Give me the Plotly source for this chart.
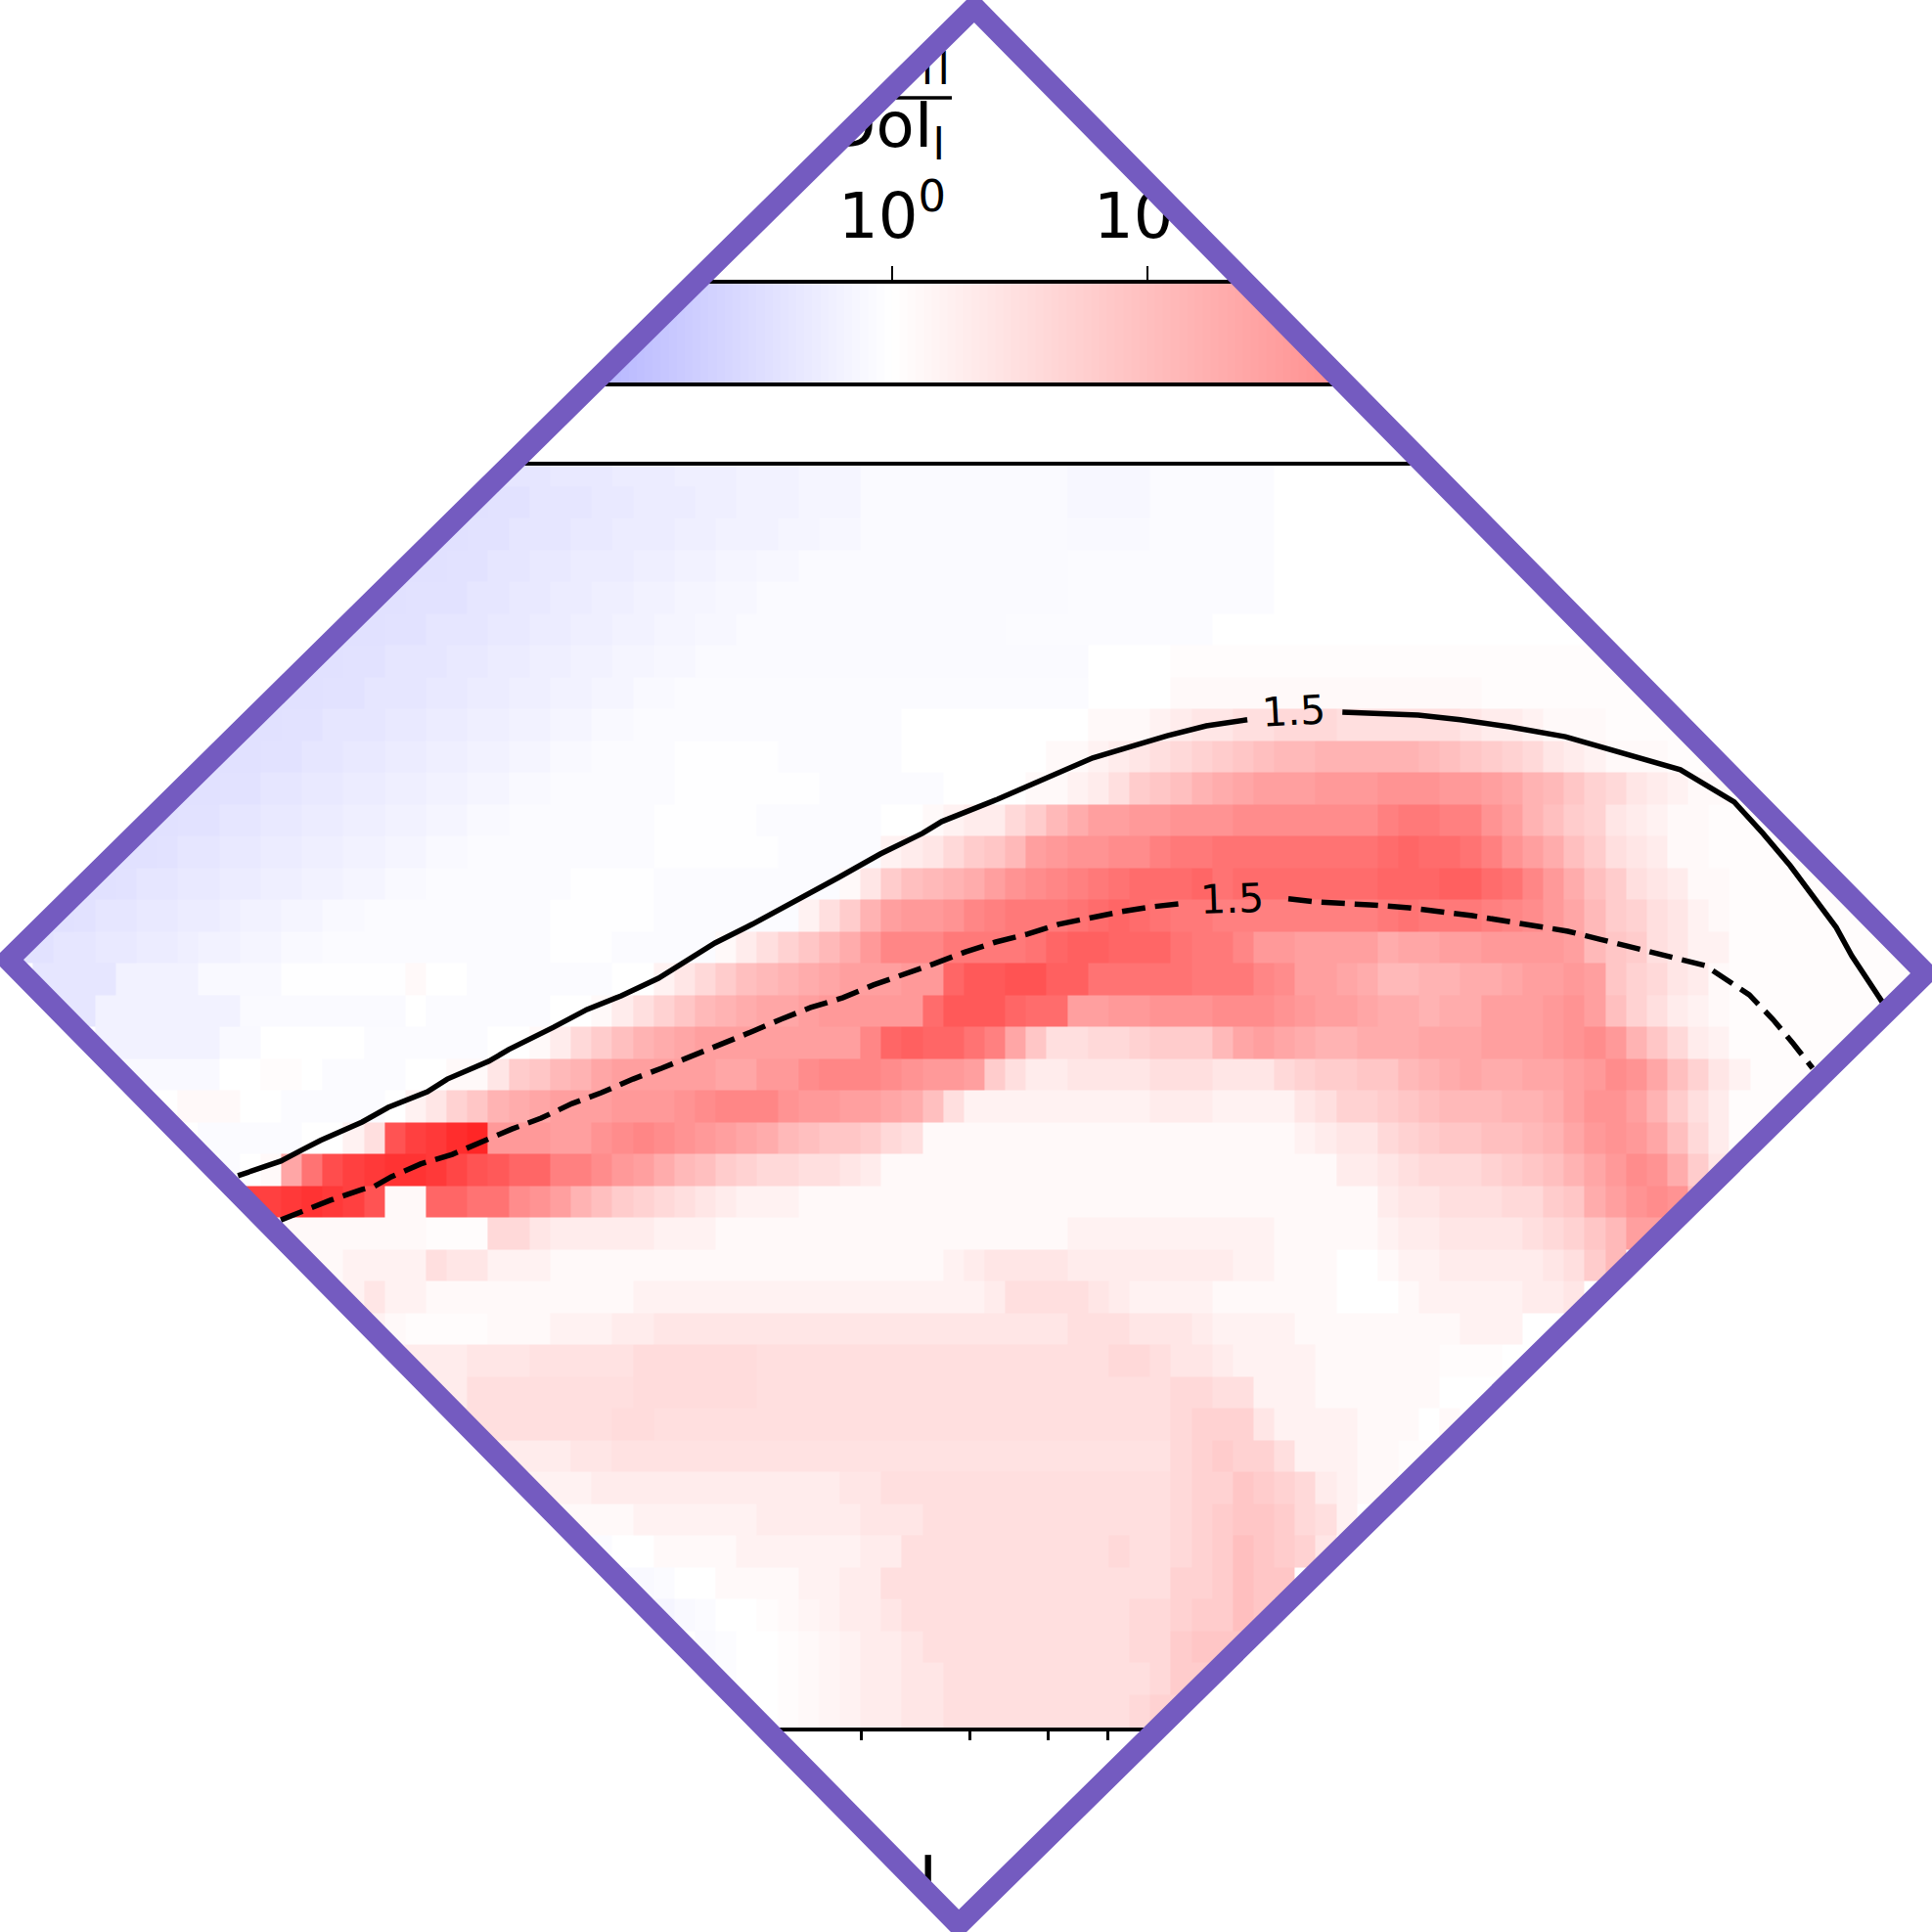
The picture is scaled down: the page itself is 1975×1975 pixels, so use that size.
import numpy as np
import plotly.graph_objects as go

# ratio per cell, in tenths of a decade (log10), top row first, leading zeros = outside the frame
row_00 = [0]*23 + [-4,-4,-4,-3.5,-3.5,-3.5,-3,-3,-3,-2.5,-2.5,-2.5,-2,-2,-2,-1.5,-1.5,-1.5] + [-.8]*10 + [-1.2]*4 + [-.7]*6
row_01 = [0]*21 + [-4.7,-4.7,-4.5,-4.5,-4,-4,-4,-3.5,-3.5,-3,-3,-3,-2.5,-2.5,-2,-2,-2,-1.5,-1.5,-1.5] + [-.8]*10 + [-1.2]*4 + [-.7]*6
row_02 = [0]*19 + [-4.7,-4.7,-4.7,-4.5,-4.5,-4,-4,-4,-3.5,-3.5,-3,-3,-3,-2.5,-2.5,-2,-2,-2,-1.5,-1.5,-1.2,-1.2] + [-.8]*10 + [-1]*4 + [-.6]*6
row_03 = [0]*18 + [-4.7,-4.7,-4.7,-4.5,-4.5,-4,-4,-3.5,-3.5,-3,-3,-3,-2.5,-2.5,-2,-2,-1.5,-1.5,-1.2,-1.2] + [-.8]*13 + [-.6]*10
row_04 = [0]*16 + [-4.7,-4.7,-4.7,-4.5,-4.5,-4.5,-4,-4,-3.5,-3.5,-3,-3,-2.5,-2.5,-2,-2,-1.5,-1.5,-1.2,-1.2] + [-.8]*15 + [-.6]*10
row_05 = [0]*15 + [-4.7,-4.7,-4.7,-4.5,-4.5,-4,-4,-4,-3.5,-3.5,-3,-3,-2.5,-2.5,-2,-2,-1.5,-1.5,-1.2,-1.2] + [-.8]*13 + [-.6]*10
row_06 = [0]*13 + [-4.7,-4.7,-4.7,-4.5,-4.5,-4,-4,-4,-3.5,-3.5,-3,-3,-2.5,-2.5,-2,-2,-1.5,-1.5,-1.2,-1.2] + [-.8]*19 + [0]*4 + [.5]*25
row_07 = [0]*12 + [-4.7,-4.7,-4.7,-4.5,-4.5,-4,-4,-4,-3.5,-3.5,-3,-3,-2.5,-2.5,-2,-2,-1.5,-1.5,-1,-1] + [-.7]*20 + [0]*4 + [1]*15 + [.5]*12
row_08 = [0]*10 + [-4.7,-4.7,-4.7,-4.5,-4.5,-4,-4,-4,-3.5,-3.5,-3,-3,-2.5,-2.5,-2,-2,-1.5,-1.5,-1,-1] + [-.7]*13 + [0]*9 + [1,1,1,2,3,4,4,5,5,6,6,6,5,5] + [5,5,5,5,4,3,3,2,1,1,1] + [.5]*8
row_09 = [0]*9 + [-4.7,-4.7,-4.7,-4.5,-4.5,-4,-4,-3.5,-3.5,-3,-3,-2.5,-2.5,-2,-2,-1.5,-1.5,-1,-1] + [-.7]*4 + [-.2]*5 + [-.7]*6 + [0]*7 + [1,1,2,3,4,5,6,7,8,9,10,11,11,12,12,12] + [12,12,11,10,9,8,7,6,4,3,2,1,1,1] + [.5]*6
row_10 = [0]*7 + [-4.7,-4.7,-4.7,-4.5,-4.5,-4,-4,-3.5,-3.5,-3,-3,-2.5,-2.5,-2,-2,-1.5,-1.5,-1,-1] + [-.7]*6 + [-.2]*7 + [-.7]*6 + [0]*4 + [1,1,2,3,5,8,9,10,12,13,14,15,15,15,16,16,16,17,17] + [17,16,16,15,14,12,11,9,7,6,4,3,2,1,1] + [.5]*6
row_11 = [0]*5 + [-4.7,-4.7,-4.7,-4.5,-4.5,-4,-4,-3.5,-3.5,-3,-3,-2.5,-2.5,-2,-2,-1.5,-1.5,-1,-1] + [-.7]*7 + [-.2]*5 + [-.7]*6 + [0,0] + [1,2,3,3,6,8,11,13,15,15,16,16,17,17,17] + [18]*7 + [20,21,21,20,20,17,15,12,10,8,7,4,3,2,1,1] + [.5]*6
row_12 = [0]*4 + [-4.7,-4.7,-4.7,-4.5,-4,-4,-3.5,-3.5,-3,-3,-2.5,-2.5,-2,-2,-1.5,-1.5,-1,-1] + [-.7]*9 + [-.2]*6 + [-.7]*5 + [2,3,4,6,8,9,11,15,16,17,17,18,18,20,21,21] + [22]*8 + [23,24,23,23,22,20,17,15,13,10,8,5,4,3,1,1] + [.5]*7
row_13 = [0]*2 + [-4.7,-4.7,-4.7,-4.5,-4,-4,-3.5,-3.5,-3,-3,-2.5,-2.5,-2,-2,-1.5,-1.5,-1,-1] + [-.7]*7 + [-.2]*4 + [-.7]*9 + [1,4] + [8,10,11,12,13,15,17,18,19,20,21,22,23,23,23,24,22] + [23]*7 + [24,24,24,25,25,23,22,19,16,13,10,8,5,4,3,1,1] + [.5]*7
row_14 = [0] + [-4.7,-4.7,-4.5,-4,-4,-3.5,-3.5,-3,-3,-2.5,-2,-2,-1.5,-1.5,-1,-1] + [-.7]*9 + [-.2]*5 + [-.7]*7 + [2,5,8,12] + [15,16,16,17,19,20,21,21,21,22,23,24,23,22,21,21,20] + [20]*7 + [21,22,21,21,21,20,19,18,16,14,11,8,7,5,4,2,1] + [.5]*8
row_15 = [-4.5]*2 + [-4,-4,-3.5,-3.5,-3,-3,-2.5,-2,-2,-1.5,-1.5,-1,-1] + [-.7]*11 + [-.2]*3 + [-.7]*5 + [1,3,5,7,9,11,13,16] + [19,19,19,21,21,21,21,22,24,25,25,24,24,24,22,21,21,19,16,16,15,15,15,15] + [13,14,14,15,15,16,16,16,16,15,11,9,8,5,4,2,2] + [.5]*9
row_16 = [0] + [-4]*4 + [-2]*4 + [-1]*4 + [-.2]*6 + [1] + [0,0] + [-.7]*7 + [0,0] + [2,4,6,8,10,11,12,13,14,15,15,15] \
    + [16,16,24,26,26,27,27,25,25,22,22,22,22,22,21,21,21,19,18,15,15,14,13] + [11,11,12,12,13,13,14,15,15,16,15,9,7,6,4,3,1] + [.5]*9
row_17 = [0,0] + [-4,-4] + [-2]*3 + [-2]*4 + [-.8]*8 + [0] + [-.7]*6 + [0,0] + [1,3,5,7,9,11,12,13,14,14,15,16,16,16,16] \
    + [16,23,26,26,26,24,23,23,15,15,16,16,17,17,17,18,18,18,17,16,15,15,14] + [13,13,12,13,13,15,15,15,16,17,15,10,7,5,3,2,1] + [.5]*8
row_18 = [0]*4 + [-2]*6 + [-1]*2 + [0]*5 + [-.7]*6 + [0,0,1] + [3,6,8,10,12,13,14,15] + [15]*7 \
    + [19,24,25,24,24,22,20,14,9,5,5,6,6,7,8,8,8,11,14,15,14,13,12,12,13] + [13,13,14,14,14,15,15,15,16,17,18,16,12,9,6,3,2] + [.5]*7
row_19 = [0]*5 + [-1]*5 + [0]*2 + [.5,.5] + [0] + [-.7]*4 + [0,0,1,1] + [4,8,9,11,12,14,15,15,15,15,15,14,14,16,16] \
    + [18,19,19,19,18,17,16,16,15,8,5,3,3,4,4,4,4,5,5,5,4,4,4,6,7,8,8,9,9] + [11,12,13,14,13,13,14,14,15,16,18,17,14,10,7,4,2] + [.5]*6
row_20 = [0]*8 + [1,1,1,0,0] + [-.7]*5 + [0,2,4,7,9,12,13,14,15,15,15,16,16,16,17,18,19,19,19,17,16,16,15,15,14,13,10,5] \
    + [2]*6 + [2,2,2,3,3,3,2,2,2,2,4,5,7,7] + [8,9,10,11,11,11,12,12,13,15,17,17,15,12,8,5,3] + [.5]*5
row_21 = [0]*9 + [-.7]*5 + [0,0,2,5] + [27,30,31,33,34] + [16,16,16,15,15,17,18,19,18,17,16,15,14,13,11,10,9,9,8,6,5] \
    + [1]*18 + [2,3,4,4] + [6,7,8,9,9,10,10,11,12,14,16,17,16,14,10,6,3] + [.5]*4
row_22 = [0]*10 + [-.7,0,1] + [14,22,28,30,31,32,32,31,29,27,26,24,24,20,20,18,16,15,13,11,10,8,7,6,6,5,5,4,3] \
    + [1]*22 + [3,3] + [4,5,6,6,6,7,8,9,10,12,14,16,18,17,13,8,4] + [.5]*3
row_23 = [0]*10 + [30,30,30,31,32,31,30,27] + [1,1] + [24,24,22,22,18,17,15,12,10,8,7,6,5,4,3,2,2,2] + [1]*28 \
    + [3,4,4,5,5,5,6,6,8,9,13,15,17,18,17,10,5]
row_24 = [0]*12 + [1]*8 + [.5]*3 + [6,6,4,3,3,3,3,3,2,2,2] + [1]*17 + [2]*10 + [1]*5 + [2,3,3,4,4,4,4,5,6,7,9,11,15,15]
row_25 = [0]*13 + [1,1,1,2,2,2,2,5,4,4,2,2,2] + [1]*19 + [2,3,4,4,4,4] + [3]*8 + [2,2,1,1,1,0,0] + [1,2,2,3,3,3,3,3,4,5,8,11]
row_26 = [0]*15 + [1,2,4,2,2] + [1]*10 + [2]*17 + [3,5,5,5,5,4,3] + [2]*4 + [1]*6 + [0]*3 + [1,2,2,2,2,2,3,3,4]
row_27 = [0]*16 + [2,2,1] + [.5]*4 + [1,1,1] + [2,2,2] + [3,3] + [4]*20 + [5,5,5] + [4,4,4] + [3] + [2]*4 + [1]*8 + [2]*3
row_28 = [0]*18 + [2,3,3,3] + [4,4,4] + [4.5]*5 + [5.5]*6 + [5]*17 + [6,6,5,4,4,3] + [2]*4 + [1]*6 + [.5]*3
row_29 = [0]*19 + [3]*3 + [5]*8 + [5.5]*6 + [5]*20 + [6,6,5,5] + [2,2,2,1,1,1,1,1,1]
row_30 = [0]*21 + [5]*8 + [5.5,5.5] + [5]*25 + [6,7,7,7,4,2,2,2,2,1,1,1] + [0,1]
row_31 = [0]*22 + [3]*5 + [4,4,4.5,4.5,4.5,4.5,4.5] + [4.5]*22 + [6,7,8,7,7,5,2,2,2,1,1] + [.5]*2
row_32 = [0]*24 + [2]*4 + [3]*12 + [4,4] + [5]*14 + [6,7,7,9,8,7,6,3,2,1,1]
row_33 = [0]*26 + [1]*4 + [2]*6 + [3]*5 + [4]*3 + [5]*12 + [6,7,8,9,9,8,6,5,2]
row_34 = [0]*27 + [-.7,-.7] + [0,0] + [1]*4 + [2]*6 + [3,3] + [5]*10 + [6,5,5] + [6,7,8,10,9,8,7,4]
row_35 = [0]*29 + [-1,-1,-.7] + [0,0] + [1]*4 + [2,2] + [3,3] + [5]*14 + [7,7,8,10,9,9]
row_36 = [0]*31 + [-1.5,-1,-.7,0,0,.5,1,1.5,2,3,3,4] + [5]*11 + [6,6,7,8,8,10,9]
row_37 = [0]*33 + [-.8,-.5,0,0,.5,1,1.5,2,3,3,4] + [5]*10 + [6,6,8,9,9,9]
row_38 = [0]*34 + [-.5,0,0,.5,1,1.5,2,3,3,4,4] + [5]*10 + [6,8,8]
row_39 = [0]*35 + [0,0,.5,1,1.5,2,3,3,4,4] + [5]*9 + [6,7,7]

rows = [row_00, row_01, row_02, row_03, row_04, row_05, row_06, row_07, row_08, row_09,
        row_10, row_11, row_12, row_13, row_14, row_15, row_16, row_17, row_18, row_19,
        row_20, row_21, row_22, row_23, row_24, row_25, row_26, row_27, row_28, row_29,
        row_30, row_31, row_32, row_33, row_34, row_35, row_36, row_37, row_38, row_39]

# contours: log10(x), y in rows, None = gap left for the label
solid_logx = [-0.702,-0.633,-0.597,-0.569,-0.502,-0.46,-0.397,-0.365,-0.298,-0.266,-0.194,-0.14,-0.085,-0.025,
              0.066,0.126,0.265,0.332,0.4,0.431,0.521,0.627,0.674,0.794,0.857,0.923,None,
              1.076,1.151,1.198,1.266,1.345,1.435,1.487,1.62,1.707,1.753,1.797,1.871,1.896,1.945]
solid_y = [17.31,17.77,18.14,18.42,19.0,19.46,19.95,20.35,20.91,21.28,21.98,22.54,22.97,23.52,
           24.63,25.22,26.69,27.43,28.08,28.45,29.15,30.08,30.45,31.15,31.46,31.65,None,
           31.89,31.86,31.8,31.65,31.43,31.12,30.82,30.08,29.06,28.08,27.06,25.12,24.23,22.78]
dashed_logx = [-0.633,-0.602,-0.553,-0.502,-0.483,-0.455,-0.408,-0.357,-0.309,-0.261,-0.214,-0.164,-0.117,-0.066,
               -0.02,0.028,0.076,0.124,0.172,0.22,0.272,0.321,0.419,0.469,0.518,0.569,0.619,0.668,0.721,0.77,0.824,None,
               0.989,1.036,1.12,1.183,1.285,1.387,1.439,1.49,1.643,1.66,1.731,1.769,1.802,1.833]
dashed_y = [15.92,16.17,16.54,16.88,16.97,17.28,17.68,17.98,18.38,18.78,19.12,19.58,19.92,20.35,
            20.69,21.06,21.46,21.83,22.23,22.6,22.91,23.31,23.98,24.35,24.66,24.91,25.22,25.43,25.62,25.77,25.89,None,
            26.02,25.92,25.83,25.74,25.49,25.18,25.0,24.75,24.02,23.92,23.0,22.23,21.46,20.69]

bottom_ticks = [2, 3, 4, 5, 6, 7, 8, 9]
cbar_ticks = [1, 10]
cbar_labels = ["10<sup>0</sup>", "10<sup>1</sup>"]

PURPLE = "#745BC0"
FONT = "DejaVu Sans"
bwr = [[0, "rgb(0,0,255)"], [0.5, "rgb(255,255,255)"], [1, "rgb(255,0,0)"]]

n_cols = 93
z = np.zeros((len(rows), n_cols))
for i, r in enumerate(rows):
    z[i, :len(r)] = r[:n_cols]
z = z[::-1] / 10.0

x_edges = 10 ** (-1.0655 + 0.033307 * np.arange(n_cols + 1))
y_edges = np.arange(len(rows) + 1, dtype=float)
y_edges[0] = -0.1

cbar_exp = np.linspace(-4, 4, 257)
cbar_mid = (cbar_exp[:-1] + cbar_exp[1:]) / 2

fig = go.Figure()
fig.add_heatmap(x=x_edges, y=y_edges, z=z, zmin=-4, zmax=4, colorscale=bwr, showscale=False, hoverinfo="skip")
fig.add_scatter(x=[None if v is None else 10 ** v for v in solid_logx], y=solid_y, mode="lines",
                line=dict(color="black", width=5.5), connectgaps=False, showlegend=False)
fig.add_scatter(x=[None if v is None else 10 ** v for v in dashed_logx], y=dashed_y, mode="lines",
                line=dict(color="black", width=5.5, dash="24px,10px"), connectgaps=False, showlegend=False)

# colour bar as its own strip, so it has a real log axis
fig.add_heatmap(x=10 ** cbar_exp, y=[0, 1], z=[cbar_mid], zmin=-4, zmax=4, colorscale=bwr, showscale=False,
                xaxis="x2", yaxis="y2", hoverinfo="skip")

# pixel-space overlay for the text that the frame cuts through
fig.add_scatter(x=[971, 966, 922], y=[57, 134, 1927], mode="text", xaxis="x3", yaxis="y3",
                text=["DoI<sub>l\u200al</sub>", "DoI<sub>l</sub>", "E\u2009I"],
                textposition=["middle left", "middle left", "middle center"],
                textfont=dict(family=FONT, size=64, color="black"), cliponaxis=False, showlegend=False)

frame = "M 996 7.5 L 1968.5 995 L 980 1967.5 L 8.5 981 Z"
mask = "M 0 0 H 1975 V 1975 H 0 Z M 996 7.5 L 8.5 981 L 980 1967.5 L 1968.5 995 Z"

fig.update_layout(
    width=1975, height=1975, margin=dict(l=0, r=0, t=0, b=0),
    paper_bgcolor="white", plot_bgcolor="rgba(0,0,0,0)", showlegend=False,
    font=dict(family=FONT, color="black"),
    xaxis=dict(type="log", domain=[0, 1], range=[-1.08504, 2.0252], tickvals=bottom_ticks, showticklabels=False,
               ticks="outside", ticklen=9, tickwidth=2.5, tickcolor="black", showgrid=False, zeroline=False,
               showline=True, linecolor="black", linewidth=3.5, mirror=True, anchor="y"),
    yaxis=dict(domain=[0.10577, 0.75924], range=[-0.05, 39.66], visible=False, anchor="x"),
    xaxis2=dict(type="log", domain=[0, 1], range=[-3.494, 4.073], side="top", tickvals=cbar_ticks, ticktext=cbar_labels,
                tickfont=dict(family=FONT, size=64), ticks="outside", ticklen=14, tickwidth=2, tickcolor="black",
                ticklabelstandoff=4, showgrid=False, zeroline=False, showline=True, linecolor="black", linewidth=3.5,
                mirror=True, anchor="y2"),
    yaxis2=dict(domain=[0.80203, 0.85316], range=[0, 1], visible=False, anchor="x2"),
    xaxis3=dict(domain=[0, 1], range=[0, 1975], visible=False, anchor="y3"),
    yaxis3=dict(domain=[0, 1], range=[1975, 0], visible=False, anchor="x3"),
    shapes=[
        dict(type="line", xref="x3", yref="y3", x0=800, x1=973, y0=100, y1=100, layer="above",
             line=dict(color="black", width=3.5)),
        dict(type="path", xref="x3", yref="y3", path=mask, layer="above", fillcolor="white", line=dict(width=0)),
        dict(type="path", xref="x3", yref="y3", path=frame, layer="above", fillcolor="rgba(0,0,0,0)",
             line=dict(color=PURPLE, width=22)),
    ],
    annotations=[
        dict(x=0.998, y=31.92, xref="x", yref="y", text="1.5", showarrow=False, textangle=-3,
             font=dict(family=FONT, size=41, color="black")),
        dict(x=0.898, y=26.02, xref="x", yref="y", text="1.5", showarrow=False, textangle=-2,
             font=dict(family=FONT, size=41, color="black")),
    ],
)

# the page's default body margin would push the figure 8px off
fig.write_html("out.html", config={"displayModeBar": False}, post_script="document.body.style.margin='0';")
